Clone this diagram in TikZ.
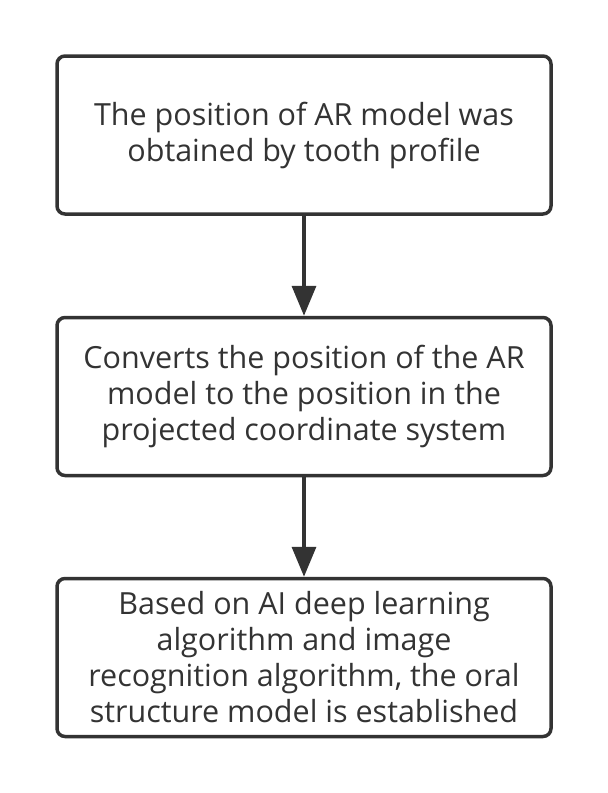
\documentclass[tikz,border=0pt]{standalone}
\usepackage{fontspec}
\setmainfont{Open Sans}
\usepackage{tikz}
\usetikzlibrary{positioning,arrows.meta}
\definecolor{linegray}{HTML}{333333}

\begin{document}
\begin{tikzpicture}[x=1pt,y=-1pt,
    stepbox/.style={draw=linegray, line width=3.5pt, rounded corners=8pt,
        minimum width=494pt, minimum height=158pt, align=center,
        text=linegray, font=\fontsize{30.5}{36}\selectfont},
    flow/.style={draw=linegray, line width=3.5pt,
        -{Triangle[length=30pt,width=24pt]}}]
    \useasboundingbox (0,0) rectangle (608,793);

    % Step boxes
    \node[stepbox] (pos) at (304,135) {The position of AR model was\\obtained by tooth profile};
    \node[stepbox] (conv) at (304,396.5) {Converts the position of the AR\\model to the position in the\\projected coordinate system};
    \node[stepbox] (oral) at (304,657.5) {Based on AI deep learning\\algorithm and image\\recognition algorithm, the oral\\structure model is established};

    % Arrows
    \draw[flow] (pos) -- (conv);
    \draw[flow] (conv) -- (oral);
\end{tikzpicture}
\end{document}
